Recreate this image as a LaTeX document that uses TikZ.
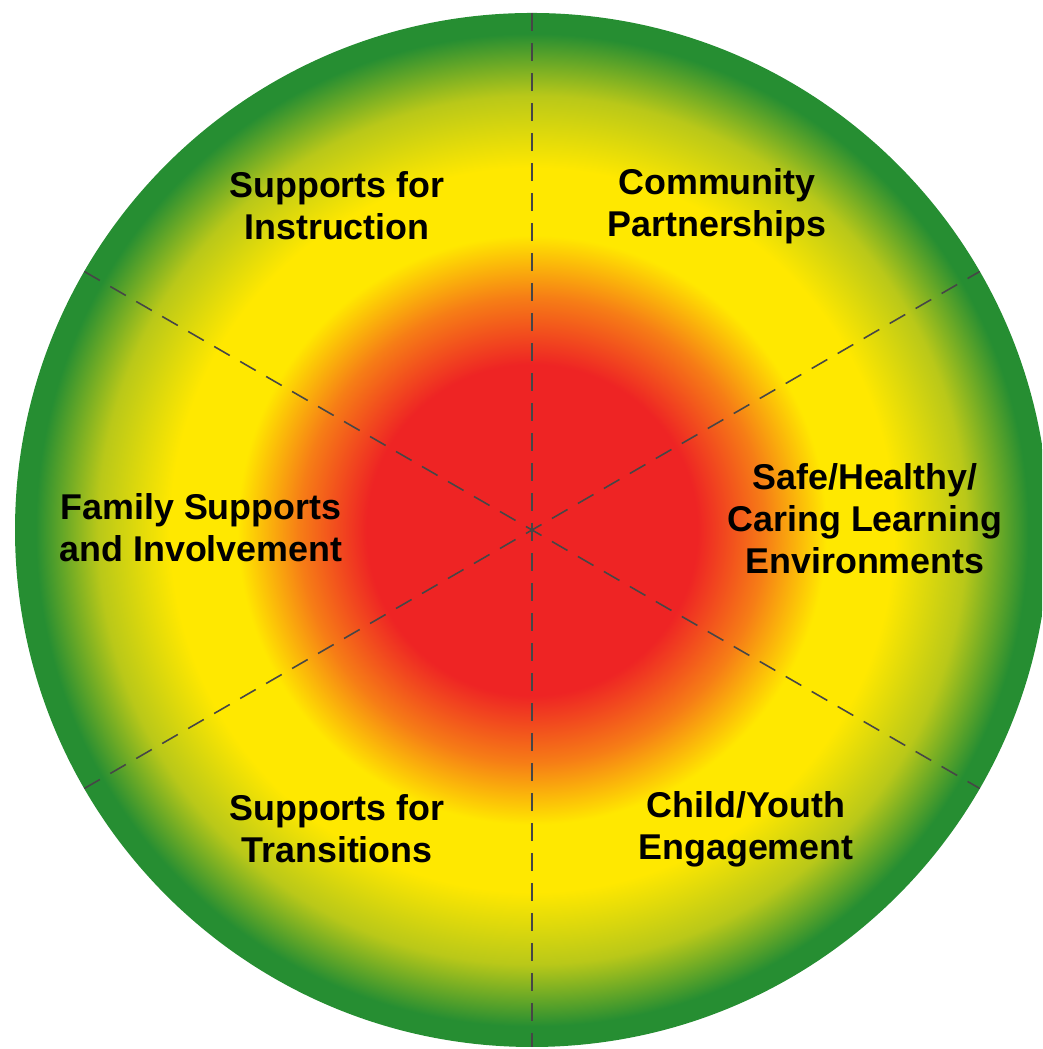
\documentclass[tikz,border=0pt]{standalone}
\usepackage{fontspec}
\setmainfont{Liberation Sans}
\usetikzlibrary{calc}
\definecolor{cred}{RGB}{238,36,36}
\definecolor{corange}{RGB}{246,125,22}
\definecolor{cyellow}{RGB}{255,232,0}
\definecolor{cyg}{RGB}{185,200,25}
\definecolor{cgreen}{RGB}{38,142,50}
\definecolor{cdash}{RGB}{70,70,70}
\pgfdeclareradialshading{wheel}{\pgfpoint{0bp}{0bp}}{%
  color(0bp)=(cred); color(8bp)=(cred); color(11.25bp)=(corange);
  color(14.25bp)=(cyellow); color(17.5bp)=(cyellow); color(21bp)=(cyg);
  color(24bp)=(cgreen); color(50bp)=(cgreen)}
\tikzset{
  lbl/.style={align=center, text=black, inner sep=0pt,
    font=\bfseries\fontsize{10.2}{12}\selectfont},
  divider/.style={draw=cdash, line width=0.45pt, dash pattern=on 0.18cm off 0.12cm}
}
\begin{document}
\begin{tikzpicture}
\useasboundingbox (0,0) rectangle (10.42,10.49);
\clip (0,0) rectangle (10.42,10.49);
\coordinate (c) at (5.32,5.19);
\path[shading=wheel] (c) circle (5.17);
\coordinate (t) at ($(c)+(90:5.17)$);
\coordinate (b) at ($(c)+(270:5.17)$);
\coordinate (a1) at ($(c)+(150:5.17)$);
\coordinate (a2) at ($(c)+(-30:5.17)$);
\coordinate (b1) at ($(c)+(210:5.17)$);
\coordinate (b2) at ($(c)+(30:5.17)$);
\draw[divider] (t) -- (c) -- (b);
\draw[divider] (a1) -- (c) -- (a2);
\draw[divider] (b1) -- (c) -- (b2);
\node[lbl] (instr) at (3.37,8.43) {Supports for\\Instruction};
\node[lbl] (comm) at (7.17,8.43) {Community\\Partnerships};
\node[lbl] (fam) at (2.01,5.21) {Family Supports\\and Involvement};
\node[lbl] (safe) at (8.65,5.30) {Safe/Healthy/\\Caring Learning\\Environments};
\node[lbl] (trans) at (3.37,2.20) {Supports for\\Transitions};
\node[lbl] (child) at (7.46,2.20) {Child/Youth\\Engagement};
\end{tikzpicture}
\end{document}
